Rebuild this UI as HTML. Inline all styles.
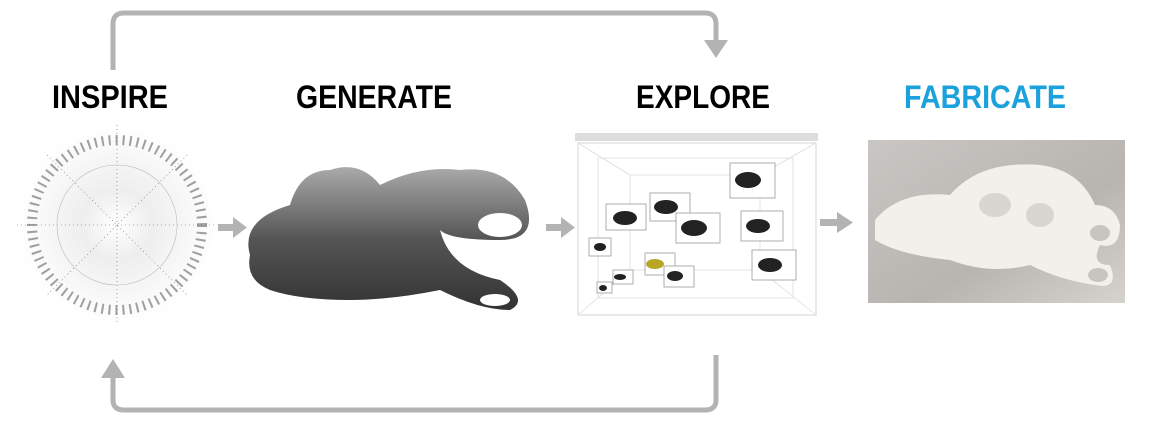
<!DOCTYPE html>
<html><head><style>
body{margin:0;width:1156px;height:430px;background:#fff;overflow:hidden;font-family:"Liberation Sans",sans-serif}
</style></head><body>
<svg width="1156" height="430" viewBox="0 0 1156 430" xmlns="http://www.w3.org/2000/svg">
<defs>
<radialGradient id="rg" cx="50%" cy="50%" r="50%"><stop offset="0" stop-color="#fff"/><stop offset="0.35" stop-color="#eee"/><stop offset="1" stop-color="#fff"/></radialGradient>
<linearGradient id="ph" x1="0" y1="0" x2="1" y2="1"><stop offset="0" stop-color="#c9c6c3"/><stop offset="0.6" stop-color="#b8b4b0"/><stop offset="1" stop-color="#d6d2ce"/></linearGradient>
<linearGradient id="bl" x1="0" y1="0" x2="0" y2="1"><stop offset="0" stop-color="#aaa"/><stop offset="0.5" stop-color="#555"/><stop offset="1" stop-color="#333"/></linearGradient>
</defs>
<g fill="none" stroke="#b3b3b3" stroke-width="5">
<path d="M113 70 V24 Q113 13 124 13 H705 Q716 13 716 24 V40"/>
<path d="M716 355 V400 Q716 410 705 410 H124 Q113 410 113 400 V378"/>
</g>
<polygon points="704,40 728,40 716,58" fill="#b3b3b3"/>
<polygon points="101,378 125,378 113,359" fill="#b3b3b3"/>
<g fill="#b3b3b3">
<rect x="218" y="224" width="16" height="7"/><polygon points="233,217 247,227.5 233,238"/>
<rect x="546" y="224" width="16" height="7"/><polygon points="561,217 575,227.5 561,238"/>
<rect x="820" y="219" width="18" height="7"/><polygon points="837,212 853,222.5 837,233"/>
</g>
<g font-weight="bold" font-size="32" lengthAdjust="spacingAndGlyphs">
<text x="52" y="108" fill="#000" textLength="116" lengthAdjust="spacingAndGlyphs">INSPIRE</text>
<text x="296" y="108" fill="#000" textLength="156" lengthAdjust="spacingAndGlyphs">GENERATE</text>
<text x="636" y="108" fill="#000" textLength="134" lengthAdjust="spacingAndGlyphs">EXPLORE</text>
<text x="904" y="108" fill="#1ba1dc" textLength="162" lengthAdjust="spacingAndGlyphs">FABRICATE</text>
</g>
<circle cx="117" cy="225" r="100" fill="url(#rg)"/>
<g stroke="#666" stroke-width="0.6">
<line x1="117" y1="125" x2="117" y2="325" stroke-dasharray="1 3"/>
<line x1="17" y1="225" x2="217" y2="225" stroke-dasharray="1 3"/>
<line x1="47" y1="155" x2="187" y2="295" stroke-dasharray="1 3"/>
<line x1="187" y1="155" x2="47" y2="295" stroke-dasharray="1 3"/>
<circle cx="117" cy="225" r="85" fill="none" stroke-dasharray="2 5" stroke="#444" stroke-width="10" opacity="0.5"/>
<circle cx="117" cy="225" r="60" fill="none" stroke="#bbb"/>
</g>
<path d="M250 255 Q240 220 290 205 Q300 170 330 170 Q360 160 380 185 Q420 165 460 170 Q505 165 525 200 Q540 240 500 240 Q450 240 440 230 Q450 270 500 280 Q530 300 510 310 Q480 310 440 290 Q390 300 350 300 Q300 300 270 290 Q245 280 250 255Z" fill="url(#bl)"/>
<ellipse cx="500" cy="225" rx="22" ry="12" fill="#fff"/>
<ellipse cx="495" cy="300" rx="15" ry="6" fill="#fff"/>
<rect x="575" y="133" width="243" height="8" fill="#ddd"/>
<rect x="578" y="143" width="238" height="172" fill="#fff" stroke="#ccc" stroke-width="0.8"/>
<g fill="none" stroke="#ddd" stroke-width="0.8">
<rect x="598" y="158" width="195" height="140"/>
<rect x="630" y="175" width="130" height="95"/>
<line x1="578" y1="143" x2="630" y2="175"/><line x1="816" y1="143" x2="760" y2="175"/>
<line x1="578" y1="315" x2="630" y2="270"/><line x1="816" y1="315" x2="760" y2="270"/>
</g>
<g fill="#fff" stroke="#999" stroke-width="0.8">
<rect x="606" y="204" width="40" height="26"/><rect x="650" y="193" width="40" height="28"/>
<rect x="676" y="213" width="44" height="30"/><rect x="730" y="163" width="45" height="35"/>
<rect x="741" y="211" width="42" height="30"/><rect x="752" y="250" width="44" height="30"/>
<rect x="589" y="238" width="22" height="18"/><rect x="645" y="253" width="30" height="22"/>
<rect x="664" y="266" width="30" height="21"/><rect x="613" y="270" width="20" height="14"/>
<rect x="597" y="282" width="15" height="11"/>
</g>
<g fill="#222">
<ellipse cx="625" cy="218" rx="12" ry="7"/><ellipse cx="666" cy="207" rx="12" ry="7"/>
<ellipse cx="694" cy="228" rx="13" ry="8"/><ellipse cx="748" cy="180" rx="13" ry="8"/>
<ellipse cx="758" cy="226" rx="12" ry="7"/><ellipse cx="770" cy="265" rx="12" ry="7"/>
<ellipse cx="600" cy="247" rx="6" ry="4"/><ellipse cx="675" cy="276" rx="8" ry="5"/>
<ellipse cx="620" cy="277" rx="6" ry="3"/><ellipse cx="603" cy="288" rx="4" ry="3"/>
</g>
<ellipse cx="655" cy="264" rx="9" ry="5" fill="#b9a626"/>
<rect x="868" y="140" width="257" height="163" fill="url(#ph)"/>
<path d="M875 220 Q900 190 950 195 Q980 160 1040 165 Q1080 170 1095 205 Q1115 205 1120 225 Q1120 250 1100 245 Q1090 265 1110 265 Q1120 290 1095 285 Q1060 280 1030 265 Q990 275 950 260 Q900 255 875 240Z" fill="#f3f0ec"/>
<ellipse cx="1100" cy="233" rx="10" ry="8" fill="#c8c4c0"/>
<ellipse cx="1098" cy="275" rx="10" ry="7" fill="#c8c4c0"/>
<ellipse cx="995" cy="205" rx="16" ry="12" fill="#d9d5d1"/>
<ellipse cx="1040" cy="215" rx="14" ry="12" fill="#d9d5d1"/>
</svg>
</body></html>
